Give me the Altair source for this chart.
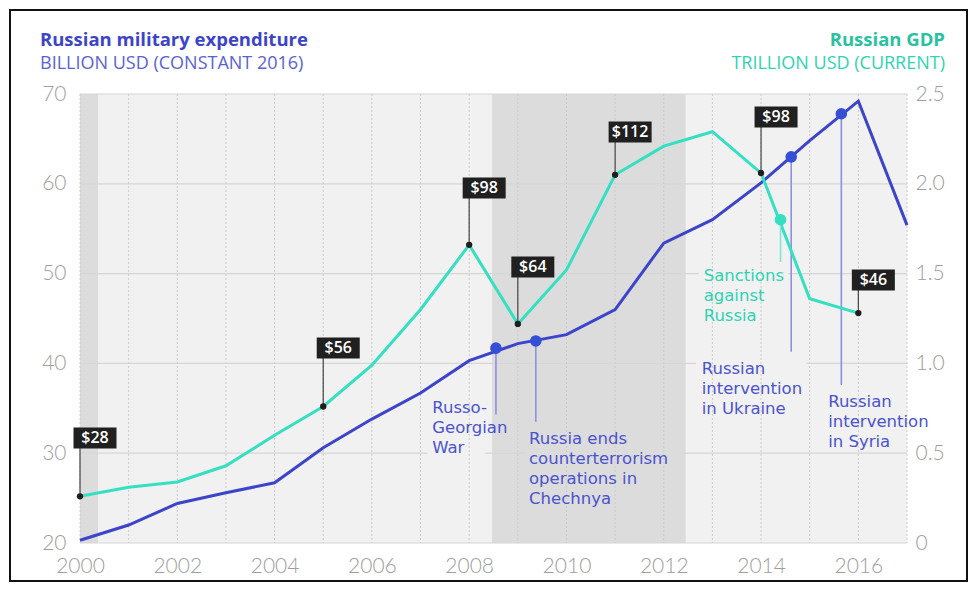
import altair as alt
import pandas as pd

# ---------------- data ----------------
years = list(range(2000, 2018))
milex = [20.3, 22.0, 24.4, 25.6, 26.7, 30.6, 33.8, 36.7, 40.3, 42.2, 43.2, 46.0, 53.4, 56.0, 60.1, 64.8, 69.2, 55.4]

gdp_years = list(range(2000, 2017))
gdp = [0.26, 0.31, 0.34, 0.43, 0.60, 0.76, 0.99, 1.30, 1.66, 1.22, 1.52, 2.05, 2.21, 2.29, 2.06, 1.36, 1.28]

oil_years = [2000, 2005, 2008, 2009, 2011, 2014, 2016]
oil_labels = ["$28", "$56", "$98", "$64", "$112", "$98", "$46"]
oil_gdp = [0.26, 0.76, 1.66, 1.22, 2.05, 2.06, 1.28]
oil_box_level = [0.585, 1.086, 1.977, 1.537, 2.288, 2.372, 1.464]

event_texts = ["Russo-\nGeorgian\nWar",
               "Russia ends\ncounterterrorism\noperations in\nChechnya",
               "Russian\nintervention\nin Ukraine",
               "Russian\nintervention\nin Syria"]
event_x = [2008.55, 2009.37, 2014.62, 2015.65]
event_y = [41.7, 42.5, 63.0, 67.8]
event_end = [34.3, 33.5, 41.3, 37.6]
event_text_x = [2007.24, 2009.23, 2012.78, 2015.38]
event_text_y = [34.5, 31.0, 38.8, 35.1]

sanction_text = ["Sanctions\nagainst\nRussia"]
sanction_x = [2014.4]
sanction_y = [1.80]
sanction_end = [1.565]
sanction_text_x = [2012.82]
sanction_text_y = [1.459]

# areas behind annotation text that hide the horizontal grid (left-axis units)
halo_x0 = [2007.14, 2009.15, 2012.66, 2012.72]
halo_x1 = [2008.33, 2012.39, 2014.93, 2014.56]
halo_y0 = [29.5, 24.0, 34.1, 44.6]
halo_y1 = [36.1, 32.8, 40.8, 51.1]
halo_fill = ["#f1f1f1", "#dcdcdc", "#f1f1f1", "#f1f1f1"]

band_start = [2000.0, 2008.47]
band_end = [2000.37, 2012.45]
left_ticks = [20, 30, 40, 50, 60, 70]
right_ticks = [0, 0.5, 1.0, 1.5, 2.0, 2.5]

# ---------------- styling ----------------
BLUE = "#3c45c9"
BLUE_DOT = "#3550d6"
BLUE_TXT = "#4a53cf"
BLUE_LINE = "#8b91dc"
TEAL = "#34e0c1"
TEAL_TXT = "#2fd3b3"
TEAL_TITLE = "#28c2a1"
FONT = "Open Sans"
ANN_FONT = "DejaVu Sans"
AXFONT = "Lato"
AXCOLOR = "#9e9e9e"
ANN_SIZE = 16.5
ANN_LH = 20
W, H = 827, 449

xscale = alt.Scale(domain=[2000, 2017], nice=False, zero=False)
ylscale = alt.Scale(domain=[20, 70], nice=False, zero=False)
yrscale = alt.Scale(domain=[0, 2.5], nice=False, zero=False)

xax = alt.Axis(values=years, labelExpr="datum.value % 2 == 0 ? datum.label : ''",
               format="d", title=None, grid=False, domain=False, ticks=False,
               labelFlush=False, labelOverlap=False,
               labelFontSize=21, labelColor=AXCOLOR, labelFont=AXFONT, labelFontWeight=300,
               labelPadding=12)
ylax = alt.Axis(values=left_ticks, title=None, grid=False, domain=False, ticks=False,
                orient="left", labelFontSize=21, labelColor=AXCOLOR, labelFont=AXFONT,
                labelFontWeight=300, labelPadding=14, labelFlush=False)
yrax = alt.Axis(values=right_ticks, title=None, grid=False, domain=False, ticks=False,
                orient="right", labelFontSize=21, labelColor=AXCOLOR, labelFont=AXFONT,
                labelFontWeight=300, labelPadding=8, labelFlush=False,
                labelExpr="datum.value == 0 ? '0' : format(datum.value, '.1f')")


def X(f):
    return alt.X(f, type="quantitative", scale=xscale, axis=xax)


def YL(f):
    return alt.Y(f, type="quantitative", scale=ylscale, axis=ylax)


def YR(f):
    return alt.Y(f, type="quantitative", scale=yrscale, axis=yrax)


# ---------------- left group ----------------
bg = alt.Chart(pd.DataFrame({"x0": [2000], "x1": [2017], "y0": [20], "y1": [70]})).mark_rect(
    color="#f1f1f1").encode(x=X("x0"), x2="x1", y=YL("y0"), y2="y1")

bands = alt.Chart(pd.DataFrame({"x0": band_start, "x1": band_end})).mark_rect(
    color="#dcdcdc").encode(x=X("x0"), x2="x1", y=alt.value(0), y2=alt.value(H))

hgrid = alt.Chart(pd.DataFrame({"y": left_ticks})).mark_rule(
    color="#d6d6d6", strokeWidth=1.2).encode(
    y=YL("y"), x=alt.value(0), x2=alt.value(W))

halos = alt.Chart(pd.DataFrame({"x0": halo_x0, "x1": halo_x1, "y0": halo_y0, "y1": halo_y1,
                                "c": halo_fill})).mark_rect().encode(
    x=X("x0"), x2="x1", y=YL("y0"), y2="y1", color=alt.Color("c:N", scale=None))

vgrid = alt.Chart(pd.DataFrame({"x": years})).mark_rule(
    color="#cbcbcb", strokeWidth=1, strokeDash=[2, 2]).encode(
    x=X("x"), y=alt.value(0), y2=alt.value(H))

mil_line = alt.Chart(pd.DataFrame({"year": years, "v": milex})).mark_line(
    color=BLUE, strokeWidth=3).encode(x=X("year"), y=YL("v"))

ev = pd.DataFrame({"x": event_x, "y": event_y, "yend": event_end,
                   "tx": event_text_x, "ty": event_text_y, "t": event_texts})
ev_lines = alt.Chart(ev).mark_rule(color=BLUE_LINE, strokeWidth=1.6).encode(
    x=X("x"), y=YL("y"), y2="yend")
ev_dots = alt.Chart(ev).mark_circle(color=BLUE_DOT, size=135, opacity=1).encode(
    x=X("x"), y=YL("y"))
ev_text = alt.Chart(ev).mark_text(color=BLUE_TXT, font=ANN_FONT, fontSize=ANN_SIZE, align="left",
                                  baseline="alphabetic", lineBreak="\n", lineHeight=ANN_LH).encode(
    x=X("tx"), y=YL("ty"), text="t:N")

title1 = alt.Chart(pd.DataFrame({"t": ["Russian military expenditure"]})).mark_text(
    color=BLUE, font=FONT, fontSize=18.5, fontWeight="bold", align="left", baseline="middle").encode(
    x=alt.value(-40), y=alt.value(-54), text="t:N")
title2 = alt.Chart(pd.DataFrame({"t": ["BILLION USD (CONSTANT 2016)"]})).mark_text(
    color="#5a62d4", font=FONT, fontSize=18, align="left", baseline="middle").encode(
    x=alt.value(-40), y=alt.value(-30), text="t:N")
title3 = alt.Chart(pd.DataFrame({"t": ["Russian GDP"]})).mark_text(
    color=TEAL_TITLE, font=FONT, fontSize=18.5, fontWeight="bold", align="right", baseline="middle").encode(
    x=alt.value(865), y=alt.value(-54), text="t:N")
title4 = alt.Chart(pd.DataFrame({"t": ["TRILLION USD (CURRENT)"]})).mark_text(
    color=TEAL_TXT, font=FONT, fontSize=18, align="right", baseline="middle").encode(
    x=alt.value(865), y=alt.value(-30), text="t:N")

frame = alt.Chart(pd.DataFrame({"a": [1]})).mark_rect(
    fill=None, stroke="#111111", strokeWidth=2).encode(
    x=alt.value(-70), x2=alt.value(887), y=alt.value(-84), y2=alt.value(487))

left = alt.layer(bg, bands, hgrid, halos, vgrid, mil_line, ev_lines, ev_dots, ev_text,
                 title1, title2, title3, title4, frame)

# ---------------- right group ----------------
gdp_line = alt.Chart(pd.DataFrame({"year": gdp_years, "v": gdp})).mark_line(
    color=TEAL, strokeWidth=3).encode(x=X("year"), y=YR("v"))

oil = pd.DataFrame({"x": oil_years, "y": oil_gdp, "b": oil_box_level, "t": oil_labels})
oil_rules = alt.Chart(oil).mark_rule(color="#444444", strokeWidth=1.2).encode(
    x=X("x"), y=YR("y"), y2="b")
oil_dots = alt.Chart(oil).mark_circle(color="#1e1e1e", size=40, opacity=1).encode(
    x=X("x"), y=YR("y"))
oil_boxes = alt.Chart(oil).mark_rect(color="#202020", width=43, height=21, xOffset=15).encode(
    x=X("x"), y=YR("b"))
oil_text = alt.Chart(oil).mark_text(color="white", font=FONT, fontSize=16, fontWeight=600,
                                    xOffset=15, baseline="middle").encode(
    x=X("x"), y=YR("b"), text="t:N")

sc = pd.DataFrame({"x": sanction_x, "y": sanction_y, "yend": sanction_end,
                   "tx": sanction_text_x, "ty": sanction_text_y, "t": sanction_text})
sc_line = alt.Chart(sc).mark_rule(color="#7fe6d3", strokeWidth=1.6).encode(
    x=X("x"), y=YR("y"), y2="yend")
sc_dot = alt.Chart(sc).mark_circle(color=TEAL, size=135, opacity=1).encode(
    x=X("x"), y=YR("y"))
sc_text = alt.Chart(sc).mark_text(color=TEAL_TXT, font=ANN_FONT, fontSize=ANN_SIZE, align="left",
                                  baseline="alphabetic", lineBreak="\n", lineHeight=ANN_LH).encode(
    x=X("tx"), y=YR("ty"), text="t:N")

right = alt.layer(gdp_line, oil_rules, oil_dots, oil_boxes, oil_text, sc_line, sc_dot, sc_text)

chart = alt.layer(left, right).resolve_scale(y="independent").properties(
    width=W, height=H,
    autosize=alt.AutoSizeParams(type="none"),
    padding={"left": 72, "top": 86, "right": 62, "bottom": 39},
    background="white",
).configure_view(stroke=None)

chart.save("out.html", embed_options={"renderer": "svg", "actions": False})
